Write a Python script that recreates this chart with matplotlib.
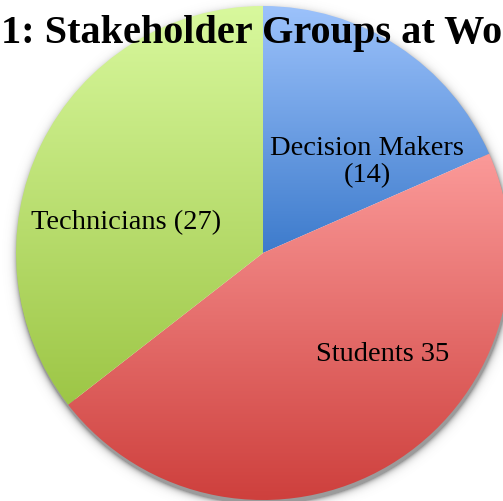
import matplotlib

matplotlib.use("Agg")

import matplotlib.pyplot as plt
import numpy as np
from matplotlib.colors import LinearSegmentedColormap

# data
labels = ["Decision Makers\n(14)", "Students 35", "Technicians (27)"]
counts = [14, 35, 27]
top_colors = ["#9cc2fb", "#fb9a99", "#d8f89d"]
bottom_colors = ["#3d7bcc", "#cd3e3b", "#9dc646"]
title = "1: Stakeholder Groups at Wo"

W, H = 503, 502
cx, cy, R = 263, 254, 247

fig = plt.figure(figsize=(W / 100, H / 100), dpi=100)
ax = fig.add_axes([0, 0, 1, 1])

# soft shadow under the pie
yy, xx = np.mgrid[0:H, 0:W]
d = np.hypot(xx + 0.5 - (cx + 1), yy + 0.5 - (cy + 4)) - R
shadow = np.zeros((H, W, 4))
shadow[..., :3] = 0.35
shadow[..., 3] = np.clip(0.6 * np.exp(-np.clip(d, 0, None) / 3.0), 0, 0.6)
shadow[..., 3][d < -10] = 0
ax.imshow(shadow, extent=(-cx, W - cx, cy - H, cy), origin="upper", zorder=0,
          interpolation="bilinear")

wedges, _ = ax.pie(counts, radius=R, startangle=90, counterclock=False,
                   wedgeprops=dict(linewidth=0))

grad = np.linspace(0, 1, 256).reshape(-1, 1)
for w, c_top, c_bot in zip(wedges, top_colors, bottom_colors):
    verts = w.get_path().vertices
    x0, x1 = verts[:, 0].min(), verts[:, 0].max()
    y0, y1 = verts[:, 1].min(), verts[:, 1].max()
    cmap = LinearSegmentedColormap.from_list("g", [c_bot, c_top])
    im = ax.imshow(grad, cmap=cmap, extent=(x0, x1, y0, y1), origin="lower",
                   aspect="auto", zorder=2)
    im.set_clip_path(w)
    w.set_facecolor("none")

serif = ["Liberation Serif", "DejaVu Serif"]
ax.text(367 - cx, cy - 162, labels[0], ha="center", va="center", fontsize=20.5,
        family=serif, linespacing=1.1, zorder=5)
ax.text(383 - cx, cy - 355, labels[1], ha="center", va="center", fontsize=20.5,
        family=serif, zorder=5)
ax.text(126 - cx, cy - 223, labels[2], ha="center", va="center", fontsize=20.5,
        family=serif, zorder=5)

ax.text(1 - cx, cy - 43, title, ha="left", va="baseline", fontsize=29,
        fontweight="bold", family=serif, zorder=6)

ax.set_xlim(-cx, W - cx)
ax.set_ylim(cy - H, cy)
ax.set_aspect("auto")
ax.axis("off")

fig.savefig("out.png", dpi=100)
